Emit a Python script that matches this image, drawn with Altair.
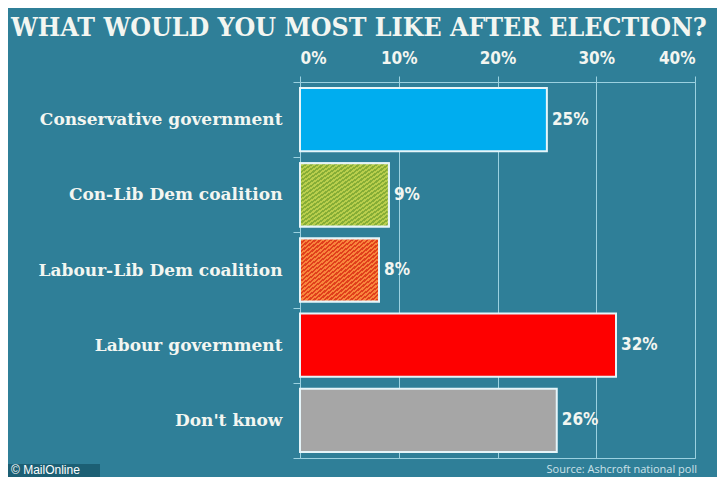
import altair as alt
import pandas as pd

categories = [
    "Conservative government",
    "Con-Lib Dem coalition",
    "Labour-Lib Dem coalition",
    "Labour government",
    "Don't know",
]
values = [25, 9, 8, 32, 26]
bar_colors = ["#00adef", "#8bb236", "#e3431c", "#fe0000", "#a6a6a6"]
hatched = ["Con-Lib Dem coalition", "Labour-Lib Dem coalition"]
hatch_base = ["#86ad36", "#e0401c"]
hatch_light = ["#b9ce4d", "#f8853c"]
x_ticks = [0, 10, 20, 30, 40]
title_text = "WHAT WOULD YOU MOST LIKE AFTER ELECTION?"
source_text = "Source: Ashcroft national poll"
credit_text = "\u00a9 MailOnline"

df = pd.DataFrame({"option": categories, "pct": values})
df["label"] = [f"{v}%" for v in values]

BG = "#2f7f98"
GRID = "#9bd1e0"
TEXT = "#f3f6f1"
SERIF = "DejaVu Serif"
COND = "Liberation Sans Narrow, DejaVu Sans Condensed, DejaVu Sans, sans-serif"


def stripes(base, light, n=30):
    stops = []
    for k in range(n):
        a = k / n
        m = (k + 0.5) / n
        b = (k + 1) / n
        stops += [
            {"offset": a, "color": base},
            {"offset": m, "color": base},
            {"offset": m, "color": light},
            {"offset": b, "color": light},
        ]
    return {"gradient": "linear", "x1": 0, "y1": 0, "x2": 1, "y2": 1, "stops": stops}


y_enc = alt.Y(
    "option:N",
    sort=categories,
    scale=alt.Scale(paddingInner=0, paddingOuter=0),
    axis=alt.Axis(
        title=None,
        tickBand="extent",
        ticks=True,
        tickSize=7,
        tickColor=GRID,
        domain=False,
        grid=False,
        labelFont=SERIF,
        labelFontSize=17,
        labelFontWeight="bold",
        labelColor=TEXT,
        labelPadding=11,
        labelLimit=0,
    ),
)
x_enc = alt.X(
    "pct:Q",
    scale=alt.Scale(domain=[0, 40], nice=False),
    axis=alt.Axis(
        orient="top",
        values=x_ticks,
        labelExpr="datum.value + '%'",
        title=None,
        grid=True,
        gridColor=GRID,
        gridWidth=1,
        domain=False,
        tickSize=6,
        tickColor=GRID,
        labelPadding=9,
        labelFont=COND,
        labelFontSize=17,
        labelFontWeight="bold",
        labelColor=TEXT,
    ),
)

base = alt.Chart(df).encode(y=y_enc, x=x_enc)

bars = base.mark_bar(height={"band": 0.84}, stroke="#e6f5f9", strokeWidth=2).encode(
    color=alt.Color(
        "option:N", scale=alt.Scale(domain=categories, range=bar_colors), legend=None
    )
)

hatch_layers = []
for cat, b, l in zip(hatched, hatch_base, hatch_light):
    hatch_layers.append(
        base.transform_filter(alt.datum.option == cat).mark_bar(
            height={"band": 0.84},
            fill=stripes(b, l),
            stroke="#e6f5f9",
            strokeWidth=2,
        )
    )

labels = base.mark_text(
    align="left", baseline="middle", dx=5, font=COND, fontSize=17,
    fontWeight="bold", color=TEXT,
).encode(text="label:N")

one = alt.Data(values=[{}])
top_strip = alt.Chart(one).mark_rect(color="white").encode(
    x=alt.value(-300), x2=alt.value(417), y=alt.value(-82), y2=alt.value(-74)
)
left_strip = alt.Chart(one).mark_rect(color="white").encode(
    x=alt.value(-300), x2=alt.value(-292), y=alt.value(-82), y2=alt.value(395)
)
credit_box = alt.Chart(one).mark_rect(color="#1c5f74").encode(
    x=alt.value(-292), x2=alt.value(-200), y=alt.value(382), y2=alt.value(395)
)
credit = alt.Chart(one).mark_text(
    text=credit_text, align="left", baseline="alphabetic",
    font="Liberation Sans, Arial, sans-serif", fontSize=12, color="white",
).encode(x=alt.value(-289), y=alt.value(392))
source = alt.Chart(one).mark_text(
    text=source_text, align="right", baseline="middle",
    font="Open Sans, sans-serif", fontSize=11, color="#cde2e8",
).encode(x=alt.value(397), y=alt.value(388))
title = alt.Chart(one).mark_text(
    text=title_text, align="left", baseline="alphabetic",
    font="DejaVu Serif Condensed, DejaVu Serif, serif", fontSize=26.5,
    fontWeight="bold", color=TEXT,
).encode(x=alt.value(-289), y=alt.value(-46))

chart = (
    alt.layer(top_strip, left_strip, credit_box, credit, source, title,
              bars, *hatch_layers, labels)
    .properties(
        width=395,
        height=376,
        autosize=alt.AutoSizeParams(type="none"),
        padding={"left": 300, "top": 82, "right": 22, "bottom": 19},
        background=BG,
    )
    .configure_view(stroke=GRID, strokeWidth=1)
)

chart.save("out.html", embed_options={"renderer": "svg", "actions": False})
